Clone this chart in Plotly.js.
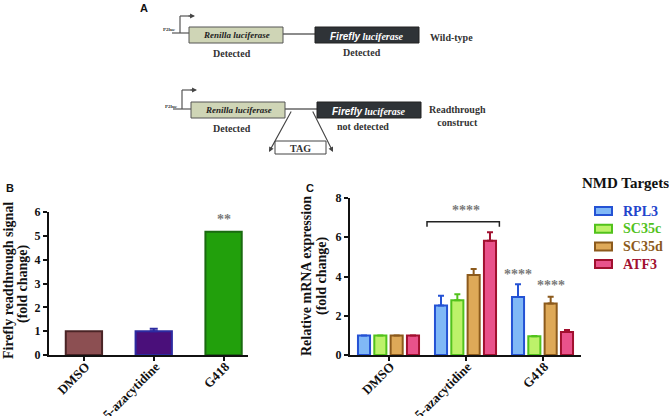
<!DOCTYPE html>
<html>
<head>
<meta charset="utf-8">
<script src="https://cdn.plot.ly/plotly-3.0.1.min.js"></script>
<style>html,body{margin:0;padding:0;background:#fff}#chart{width:669px;height:416px}</style>
</head>
<body>
<div id="chart"></div>
<script>
// ---- Data ----
const categoriesB = ["DMSO", "5-azacytidine", "G418"];
const valuesB = [1.0, 1.0, 5.17];
const errorsB = [0, 0.1, 0.02];
const fillsB = ["#8c4f52", "#4a0f7a", "#22a00c"];
const linesB = ["#4a2426", "#2c2aa0", "#1a6a10"];

const categoriesC = ["DMSO", "5-azacytidine", "G418"];
const seriesNames = ["RPL3", "SC35c", "SC35d", "ATF3"];
const rpl3 = [1.0, 2.52, 2.96];
const sc35c = [1.0, 2.79, 0.95];
const sc35d = [1.0, 4.08, 2.62];
const atf3 = [1.0, 5.82, 1.17];
const rpl3Err = [0, 0.5, 0.65];
const sc35cErr = [0, 0.3, 0.02];
const sc35dErr = [0, 0.3, 0.35];
const atf3Err = [0, 0.44, 0.1];
const fillsC = ["#80b8f6", "#bdf26a", "#dea958", "#e9528b"];
const linesC = ["#2452d4", "#52c21c", "#8c5a1c", "#a1102f"];
const textC = ["#2244cc", "#52c21c", "#8c5a1c", "#a1102f"];

// ---- helpers (pixel -> paper) ----
const W = 669, H = 416;
const X = p => p / W;
const Y = p => 1 - p / H;
const SERIF = "Liberation Serif, Times New Roman, serif";
const SANS = "Liberation Sans, Arial, sans-serif";

const traces = [];
categoriesB.forEach((c, i) => {
  traces.push({
    type: "bar", x: [c], y: [valuesB[i]], xaxis: "x", yaxis: "y",
    width: 0.52, offsetgroup: "B", showlegend: false, hoverinfo: "x+y",
    marker: { color: fillsB[i], line: { color: linesB[i], width: 2 } },
    error_y: { type: "data", symmetric: false, array: [errorsB[i]], arrayminus: [0],
      visible: errorsB[i] > 0.05, color: linesB[i], thickness: 2, width: 4 }
  });
});
const seriesC = [rpl3, sc35c, sc35d, atf3];
const errsC = [rpl3Err, sc35cErr, sc35dErr, atf3Err];
seriesC.forEach((s, k) => {
  traces.push({
    type: "bar", x: categoriesC, y: s, xaxis: "x2", yaxis: "y2",
    name: seriesNames[k], showlegend: false,
    marker: { color: fillsC[k], line: { color: linesC[k], width: 2 } },
    error_y: { type: "data", symmetric: false, array: errsC[k], arrayminus: [0, 0, 0],
      color: linesC[k], thickness: 2, width: 3 }
  });
});

// ---- Panel A diagram (shapes in paper coords) ----
const shapes = [];
function rect(x0, y0, x1, y1, fill, line, lw) {
  shapes.push({ type: "rect", xref: "paper", yref: "paper", x0: X(x0), x1: X(x1), y0: Y(y1), y1: Y(y0),
    fillcolor: fill, line: { color: line, width: lw || 1 }, layer: "above" });
}
function seg(x0, y0, x1, y1, color, lw) {
  shapes.push({ type: "line", xref: "paper", yref: "paper", x0: X(x0), x1: X(x1), y0: Y(y0), y1: Y(y1),
    line: { color: color, width: lw || 1.2 } });
}
// row 1
seg(172, 33, 189, 33, "#555", 1.2);
seg(180, 33, 180, 16, "#555", 1.2);
seg(180, 16, 190, 16, "#555", 1.2);
seg(283, 34, 315, 34, "#666", 1.5);
rect(189, 27, 283, 43, "#cfd5b6", "#555", 1);
rect(315, 27, 419, 43, "#2f3337", "#222", 1);
// row 2
seg(173, 109, 191, 109, "#555", 1.2);
seg(182, 109, 182, 90, "#555", 1.2);
seg(182, 90, 193, 90, "#555", 1.2);
seg(285, 109, 317, 109, "#666", 1.5);
rect(191, 102, 285, 118, "#cfd5b6", "#555", 1);
rect(317, 102, 421, 118, "#2f3337", "#222", 1);
rect(275, 141, 326, 154, "#ffffff", "#444", 1);

// ---- Panel C bracket (data coords) ----
shapes.push({ type: "path", xref: "x2", yref: "y2", layer: "above",
  path: "M 0.5,6.53 L 0.5,6.79 L 1.44,6.79 L 1.44,6.53", line: { color: "#222", width: 1.5 } });

// ---- annotations ----
const ann = [];
function txt(text, x, y, size, opts) {
  ann.push(Object.assign({ text: text, xref: "paper", yref: "paper", x: X(x), y: Y(y), showarrow: false,
    xanchor: "center", yanchor: "middle", font: { family: SERIF, size: size, color: "#333", weight: "bold" } }, opts || {}));
}
function arrow(x, y, ax, ay) {
  ann.push({ text: "", xref: "paper", yref: "paper", x: X(x), y: Y(y), ax: ax, ay: ay, showarrow: true,
    arrowhead: 2, arrowsize: 0.9, arrowwidth: 1.1, arrowcolor: "#444" });
}
txt("A", 138, 8, 11, { xanchor: "left", font: { family: SANS, size: 11, color: "#111", weight: "bold" } });
txt("P2luc", 178, 30, 5, { xanchor: "right", font: { family: SERIF, size: 5, color: "#333", weight: "bold" } });
txt("P2luc", 180, 106, 5, { xanchor: "right", font: { family: SERIF, size: 5, color: "#333", weight: "bold" } });
arrow(195, 16, -8, 0);
arrow(197, 90, -8, 0);
const ren = '<i>Renilla luciferase</i>';
const ff = '<span style="font-family:Liberation Sans,Arial,sans-serif"><b><i>Firefly</i></b></span> <i>luciferase</i>';
txt(ren, 236, 35, 9, { font: { family: SERIF, size: 9, color: "#222", weight: "bold" } });
txt(ff, 367, 36, 10, { font: { family: SERIF, size: 10, color: "#ffffff", weight: "bold" } });
txt("Wild-type", 428, 37, 10, { xanchor: "left" });
txt("Detected", 232, 53, 10);
txt("Detected", 362, 52, 10);
txt(ren, 238, 110, 9, { font: { family: SERIF, size: 9, color: "#222", weight: "bold" } });
txt(ff, 369, 111, 10, { font: { family: SERIF, size: 10, color: "#ffffff", weight: "bold" } });
txt("Readthrough<br>construct", 457, 116, 10);
txt("Detected", 232, 128, 10);
txt("not detected", 363, 126, 10);
txt("TAG", 300, 148, 10);
arrow(269, 152, 23, -42);
arrow(333, 152, -21, -42);

// panel labels
txt("B", 4, 188, 11, { xanchor: "left", font: { family: SANS, size: 11, color: "#111", weight: "bold" } });
txt("C", 304, 188, 11, { xanchor: "left", font: { family: SANS, size: 11, color: "#111", weight: "bold" } });

// axis titles (two lines each, placed separately for tight spacing)
const titleFont = { family: SERIF, size: 14, color: "#111", weight: "bold" };
txt("Firefly readthrough signal", 8, 281, 14, { textangle: -90, font: titleFont });
txt("(fold change)", 23, 284, 14, { textangle: -90, font: titleFont });
txt("Relative mRNA expression", 306, 276, 14, { textangle: -90, font: titleFont });
txt("(fold change)", 322, 276, 14, { textangle: -90, font: titleFont });

// legend (drawn from the series names and colours)
txt("NMD Targets", 625, 183, 15, { font: { family: SERIF, size: 15, color: "#111", weight: "bold" } });
seriesNames.forEach((nm, k) => {
  const yc = 211 + k * 17.7;
  rect(595, yc - 4, 612, yc + 4, fillsC[k], linesC[k], 2);
  txt(nm, 621, yc, 14, { xanchor: "left", font: { family: SERIF, size: 14, color: textC[k], weight: "bold" } });
});

// significance stars
const starFont = { family: SERIF, size: 14, color: "#7a7a7a", weight: "bold" };
ann.push({ text: "**", xref: "x", yref: "y", x: 2, y: valuesB[2] + 0.5, showarrow: false, font: starFont });
ann.push({ text: "****", xref: "x2", yref: "y2", x: 1, y: 7.35, showarrow: false, font: starFont });
ann.push({ text: "****", xref: "x2", yref: "y2", x: 2 - 1.5 * 0.212, y: rpl3[2] + rpl3Err[2] + 0.5, showarrow: false, font: starFont });
ann.push({ text: "****", xref: "x2", yref: "y2", x: 2 + 0.5 * 0.212, y: sc35d[2] + sc35dErr[2] + 0.55, showarrow: false, font: starFont });

const tickFont = { family: SERIF, size: 12, color: "#111", weight: "bold" };
const axCommon = { showline: true, linecolor: "#111", linewidth: 2, ticks: "outside", ticklen: 4,
  tickwidth: 2, tickcolor: "#111", tickfont: tickFont, showgrid: false, zeroline: false, fixedrange: true };
const xTick = { family: SERIF, size: 13, color: "#111", weight: "bold" };

const layout = {
  width: W, height: H,
  margin: { l: 0, r: 0, t: 0, b: 0 },
  paper_bgcolor: "#fff", plot_bgcolor: "rgba(0,0,0,0)",
  barmode: "group", bargap: 0.152, bargroupgap: 0.26,
  showlegend: false,
  xaxis: Object.assign({}, axCommon, { domain: [X(49), X(248)], range: [-0.5, 2.35], type: "category",
    tickangle: -45, anchor: "y", tickfont: xTick, ticklabelstandoff: -7, ticklabelshift: 2 }),
  yaxis: Object.assign({}, axCommon, { domain: [Y(355), Y(212)], range: [0, 6], dtick: 1, anchor: "x" }),
  xaxis2: Object.assign({}, axCommon, { domain: [X(350), X(581)], range: [-0.5, 2.5], type: "category",
    tickangle: -45, anchor: "y2", tickfont: xTick, ticklabelstandoff: -7, ticklabelshift: 2 }),
  yaxis2: Object.assign({}, axCommon, { domain: [Y(355), Y(198)], range: [0, 8], dtick: 2, anchor: "x2" }),
  shapes: shapes,
  annotations: ann
};

Plotly.newPlot("chart", traces, layout, { displayModeBar: false, staticPlot: true });
</script>
</body>
</html>
